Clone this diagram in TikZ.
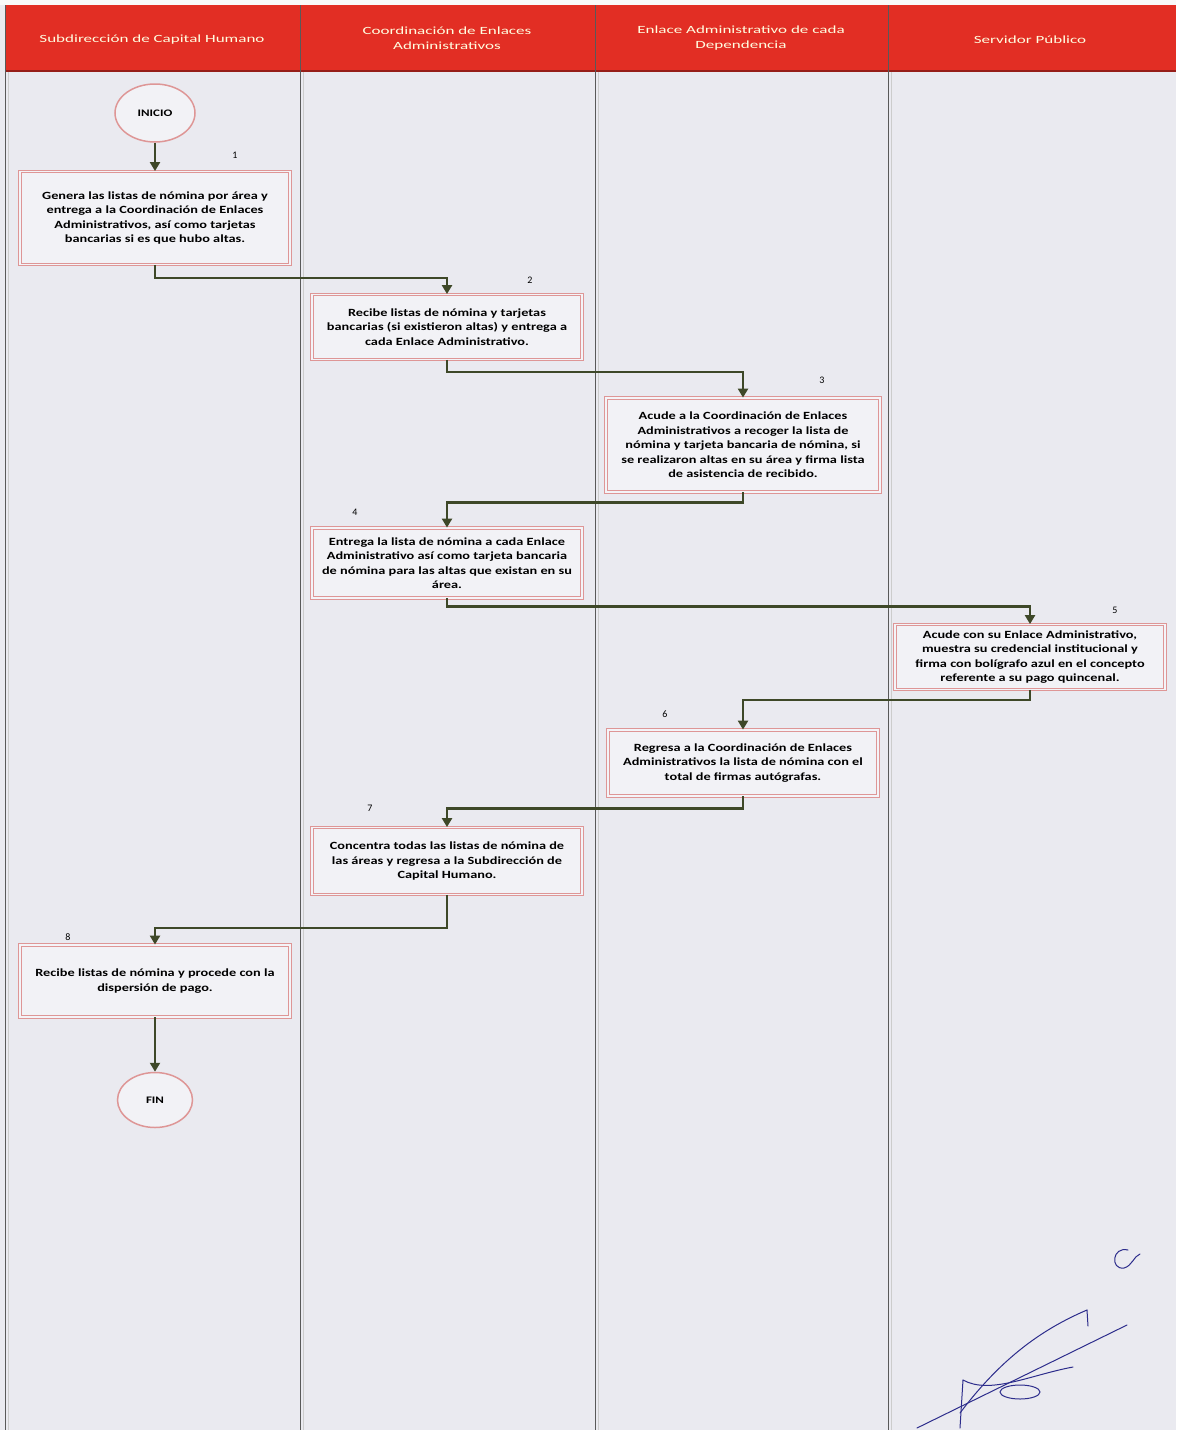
\documentclass[tikz,border=0pt]{standalone}
\usepackage{fontspec}
\setmainfont{Carlito}
\newfontfamily\cajafont[FakeStretch=1.3]{Carlito}
\newfontfamily\titfont[FakeStretch=1.55]{Carlito}
\usetikzlibrary{arrows.meta,shapes.geometric}
\definecolor{fondo}{RGB}{234,234,240}
\definecolor{rojo}{RGB}{226,46,36}
\definecolor{rojoosc}{RGB}{150,30,25}
\definecolor{rosa}{RGB}{222,150,150}
\definecolor{verde}{RGB}{62,72,40}
\definecolor{tinta}{RGB}{45,45,140}
\tikzset{>={Triangle[width=10pt,length=9pt]},
  caja/.style={draw=rosa,line width=.8pt,double=fondo!50!white,double distance=1.6pt,
    fill=fondo!60!white,minimum width=270pt,align=center,inner sep=2pt,
    font=\cajafont\bfseries\fontsize{11}{14.5}\selectfont},
  elipse/.style={ellipse,draw=rosa,line width=1.5pt,fill=fondo!60!white,
    font=\cajafont\bfseries\fontsize{10}{12}\selectfont},
  titulo/.style={align=center,text=white!88!yellow,font=\titfont\fontsize{11}{15}\selectfont},
  flujo/.style={verde,line width=2.2pt,->},
  linea/.style={draw=gray!70!black,line width=.6pt}}
\newcommand*{\paso}[1]{{\fontsize{10}{12}\selectfont #1}}

\begin{document}
\begin{tikzpicture}[x=1pt,y=-1pt]
\useasboundingbox (0,0) rectangle (1176,1430);
\fill[fondo] (0,0) rectangle (1176,1430);
\fill[white!95!gray] (0,0) rectangle (1176,5);
% encabezado
\fill[rojo] (5,5) rectangle (1176,72);
\draw[rojoosc,line width=2pt] (5,71) -- (1176,71);
\foreach \x in {5,300,595,888} {
  \draw[linea] (\x,5) -- (\x,1430);
  \draw[gray!40,line width=.5pt] (\x+3,72) -- (\x+3,1430);
}
\node[titulo] (t1) at (152,40) {Subdirección de Capital Humano};
\node[titulo] (t2) at (447,38) {Coordinación de Enlaces\\Administrativos};
\node[titulo] (t3) at (741,38) {Enlace Administrativo de cada\\Dependencia};
\node[titulo] (t4) at (1030,40) {Servidor Público};
% actividades
\node[elipse,minimum width=80pt,minimum height=58pt] (ini) at (155,113) {INICIO};
\node[caja,minimum height=93pt] (b1) at (155,218)
  {Genera las listas de nómina por área y\\entrega a la Coordinación de Enlaces\\
   Administrativos, así como tarjetas\\bancarias si es que hubo altas.};
\node[caja,minimum height=65pt] (b2) at (447,327)
  {Recibe listas de nómina y tarjetas\\bancarias (si existieron altas) y entrega a\\
   cada Enlace Administrativo.};
\node[caja,minimum height=94pt,minimum width=274pt] (b3) at (743,445)
  {Acude a la Coordinación de Enlaces\\Administrativos a recoger la lista de\\
   nómina y tarjeta bancaria de nómina, si\\se realizaron altas en su área y firma lista\\
   de asistencia de recibido.};
\node[caja,minimum height=70pt] (b4) at (447,563)
  {Entrega la lista de nómina a cada Enlace\\Administrativo así como tarjeta bancaria\\
   de nómina para las altas que existan en su\\área.};
\node[caja,minimum height=65pt] (b5) at (1030,657)
  {Acude con su Enlace Administrativo,\\muestra su credencial institucional y\\
   firma con bolígrafo azul en el concepto\\referente a su pago quincenal.};
\node[caja,minimum height=66pt] (b6) at (743,763)
  {Regresa a la Coordinación de Enlaces\\Administrativos la lista de nómina con el\\
   total de firmas autógrafas.};
\node[caja,minimum height=67pt] (b7) at (447,861)
  {Concentra todas las listas de nómina de\\las áreas y regresa a la Subdirección de\\
   Capital Humano.};
\node[caja,minimum height=72pt] (b8) at (155,981)
  {Recibe listas de nómina y procede con la\\dispersión de pago.};
\node[elipse,minimum width=75pt,minimum height=55pt] (fin) at (155,1100) {FIN};
% numeros
\foreach \n/\x/\y in {1/235/155,2/530/280,3/822/380,4/355/512,
                      5/1115/610,6/665/714,7/370/808,8/68/937}
  \node (n\n) at (\x,\y) {\paso{\n}};
% flujo
\draw[flujo] (ini) -- (b1);
\draw[flujo] (b1.south) -- ++(0,13) -| (b2.north);
\draw[flujo] (b2.south) -- ++(0,12) -| (b3.north);
\draw[flujo] (b3.south) -- ++(0,10) -| (b4.north);
\draw[flujo] (b4.south) -- ++(0,8) -| (b5.north);
\draw[flujo] (b5.south) -- ++(0,10) -| (b6.north);
\draw[flujo] (b6.south) -- ++(0,12) -| (b7.north);
\draw[flujo] (b7.south) -- ++(0,33) -| (b8.north);
\draw[flujo] (b8) -- (fin);
% firma
\draw[tinta,line width=1pt,line cap=round] (917,1428) -- (1127,1325);
\draw[tinta,line width=1pt,line cap=round] (960,1413) .. controls (1000,1360) and (1040,1330) .. (1087,1310) -- (1088,1326);
\draw[tinta,line width=1pt,line cap=round] (960,1428) -- (963,1380) .. controls (990,1395) and (1030,1375) .. (1073,1367);
\draw[tinta,line width=1pt] (1020,1392) ellipse (20 and 7);
\draw[tinta,line width=1pt,line cap=round] (1128,1250) .. controls (1112,1246) and (1110,1270) .. (1124,1268) .. controls (1132,1266) and (1134,1256) .. (1140,1254);
\end{tikzpicture}
\end{document}
